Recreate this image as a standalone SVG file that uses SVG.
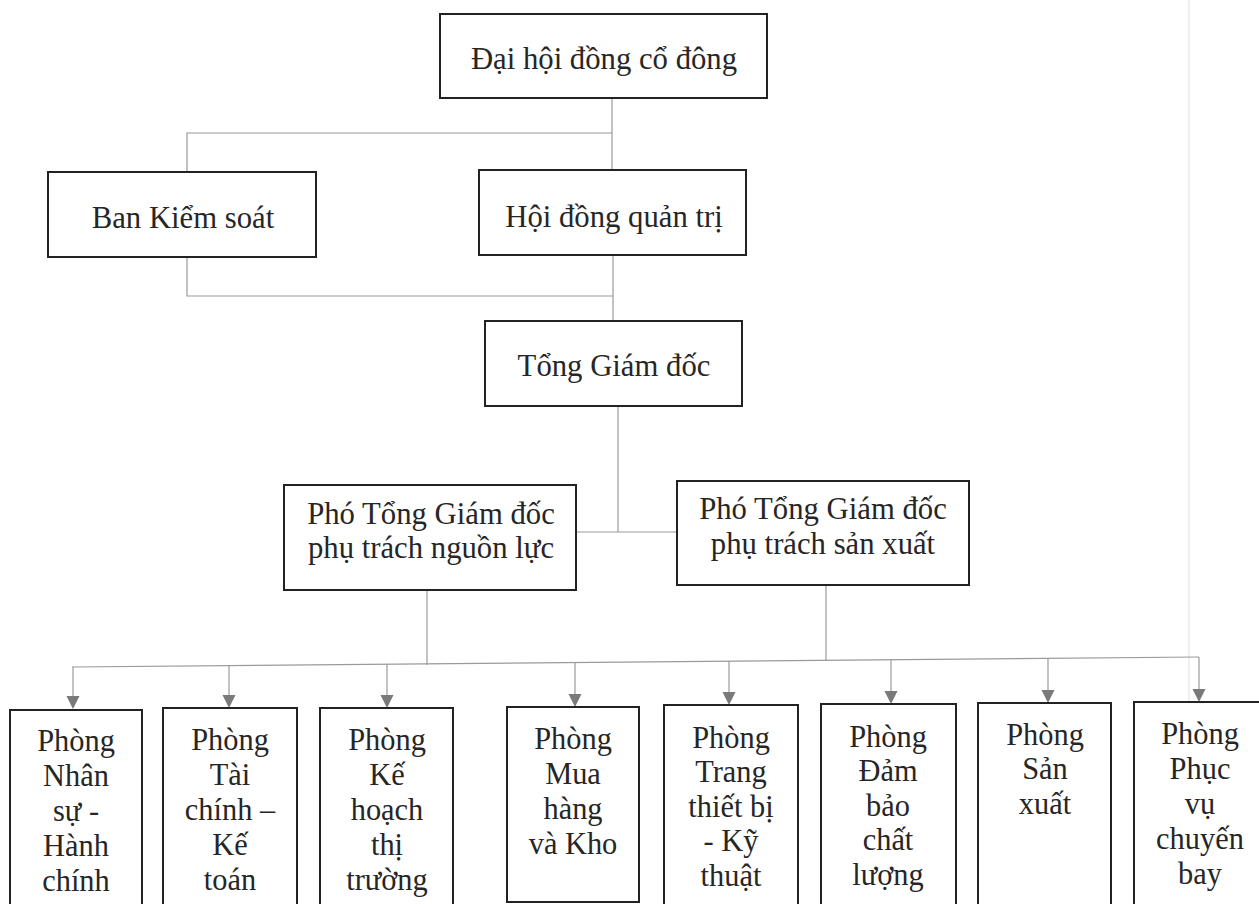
<svg xmlns="http://www.w3.org/2000/svg" width="1259" height="904" viewBox="0 0 1259 904">
<defs>
<style>
.box{fill:#ffffff;stroke:#222222;stroke-width:2}
.t{font-family:"Liberation Serif","Times New Roman",serif;font-size:32px;fill:#262626;text-anchor:middle}
.s{font-family:"Liberation Serif","Times New Roman",serif;font-size:32px;fill:#262626;text-anchor:middle}
.c{fill:none;stroke:#9a9a9a;stroke-width:1.2}
.ar{fill:#7a7a7a}
</style>
<path id="tri" class="ar" d="M-6.5,-13 L6.5,-13 L0,0 Z"/>
</defs>
<rect width="1259" height="904" fill="#ffffff"/>
<line x1="1189" y1="0" x2="1189" y2="904" stroke="#e4e4e4" stroke-width="1.2"/>
<g id="connectors">
<path class="c" d="M612,98 V170"/>
<path class="c" d="M612,133 H187 V172"/>
<path class="c" d="M187,257 V296 H613"/>
<path class="c" d="M613,255 V321"/>
<path class="c" d="M618,406 V532"/>
<path class="c" d="M576,532 H677"/>
<path class="c" d="M427,590 V665"/>
<path class="c" d="M826,585 V661"/>
<path class="c" d="M72,667 L1199,657"/>
<path class="c" d="M73,667 V697"/>
<path class="c" d="M229,665.6 V696"/>
<path class="c" d="M387,664.2 V696"/>
<path class="c" d="M575,662.5 V695"/>
<path class="c" d="M729,661.2 V693"/>
<path class="c" d="M891,659.7 V692"/>
<path class="c" d="M1048,658.3 V691"/>
<path class="c" d="M1199,657 V690"/>
<use href="#tri" x="73" y="709"/>
<use href="#tri" x="229" y="708"/>
<use href="#tri" x="387" y="708"/>
<use href="#tri" x="575" y="707"/>
<use href="#tri" x="729" y="705"/>
<use href="#tri" x="891" y="704"/>
<use href="#tri" x="1048" y="703"/>
<use href="#tri" x="1199" y="702"/>
</g>
<g id="dai-hoi-dong-co-dong">
<rect class="box" x="440" y="14" width="327" height="84"/>
<text class="t" transform="translate(604,69) scale(0.96,1)">Đại hội đồng cổ đông</text>
</g>
<g id="ban-kiem-soat">
<rect class="box" x="48" y="172" width="268" height="85"/>
<text class="t" transform="translate(183,228) scale(0.96,1)">Ban Kiểm soát</text>
</g>
<g id="hoi-dong-quan-tri">
<rect class="box" x="479" y="170" width="267" height="85"/>
<text class="t" transform="translate(614,227) scale(0.96,1)">Hội đồng quản trị</text>
</g>
<g id="tong-giam-doc">
<rect class="box" x="485" y="321" width="257" height="85"/>
<text class="t" transform="translate(614,376) scale(0.96,1)">Tổng Giám đốc</text>
</g>
<g id="pho-tgd-nguon-luc">
<rect class="box" x="284" y="485" width="292" height="105"/>
<text class="t" transform="translate(431,524) scale(0.96,1)"><tspan x="0" y="0">Phó Tổng Giám đốc</tspan><tspan x="0" y="34">phụ trách nguồn lực</tspan></text>
</g>
<g id="pho-tgd-san-xuat">
<rect class="box" x="677" y="481" width="292" height="104"/>
<text class="t" transform="translate(823,519) scale(0.96,1)"><tspan x="0" y="0">Phó Tổng Giám đốc</tspan><tspan x="0" y="35">phụ trách sản xuất</tspan></text>
</g>
<g id="phong-nhan-su">
<rect class="box" x="10" y="710" width="132" height="210"/>
<text class="s" transform="translate(76,751) scale(0.95,1)"><tspan x="0" y="0">Phòng</tspan><tspan x="0" y="35">Nhân</tspan><tspan x="0" y="70">sự -</tspan><tspan x="0" y="105">Hành</tspan><tspan x="0" y="140">chính</tspan></text>
</g>
<g id="phong-tai-chinh">
<rect class="box" x="163" y="708" width="134" height="210"/>
<text class="s" transform="translate(230,750) scale(0.95,1)"><tspan x="0" y="0">Phòng</tspan><tspan x="0" y="35">Tài</tspan><tspan x="0" y="70">chính –</tspan><tspan x="0" y="105">Kế</tspan><tspan x="0" y="140">toán</tspan></text>
</g>
<g id="phong-ke-hoach">
<rect class="box" x="320" y="708" width="133" height="210"/>
<text class="s" transform="translate(387,750) scale(0.95,1)"><tspan x="0" y="0">Phòng</tspan><tspan x="0" y="35">Kế</tspan><tspan x="0" y="70">hoạch</tspan><tspan x="0" y="105">thị</tspan><tspan x="0" y="140">trường</tspan></text>
</g>
<g id="phong-mua-hang">
<rect class="box" x="507" y="707" width="132" height="195"/>
<text class="s" transform="translate(573,749) scale(0.95,1)"><tspan x="0" y="0">Phòng</tspan><tspan x="0" y="35">Mua</tspan><tspan x="0" y="70">hàng</tspan><tspan x="0" y="105">và Kho</tspan></text>
</g>
<g id="phong-trang-thiet-bi">
<rect class="box" x="664" y="705" width="134" height="215"/>
<text class="s" transform="translate(731,748) scale(0.95,1)"><tspan x="0" y="0">Phòng</tspan><tspan x="0" y="34.5">Trang</tspan><tspan x="0" y="69">thiết bị</tspan><tspan x="0" y="103.5">- Kỹ</tspan><tspan x="0" y="138">thuật</tspan></text>
</g>
<g id="phong-dam-bao">
<rect class="box" x="821" y="704" width="135" height="215"/>
<text class="s" transform="translate(888,747) scale(0.95,1)"><tspan x="0" y="0">Phòng</tspan><tspan x="0" y="34.5">Đảm</tspan><tspan x="0" y="69">bảo</tspan><tspan x="0" y="103.5">chất</tspan><tspan x="0" y="138">lượng</tspan></text>
</g>
<g id="phong-san-xuat">
<rect class="box" x="978" y="703" width="133" height="215"/>
<text class="s" transform="translate(1045,745) scale(0.95,1)"><tspan x="0" y="0">Phòng</tspan><tspan x="0" y="34.5">Sản</tspan><tspan x="0" y="69">xuất</tspan></text>
</g>
<g id="phong-phuc-vu">
<rect class="box" x="1134" y="702" width="128" height="215"/>
<text class="s" transform="translate(1200,744) scale(0.95,1)"><tspan x="0" y="0">Phòng</tspan><tspan x="0" y="35">Phục</tspan><tspan x="0" y="70">vụ</tspan><tspan x="0" y="105">chuyến</tspan><tspan x="0" y="140">bay</tspan></text>
</g>
</svg>
